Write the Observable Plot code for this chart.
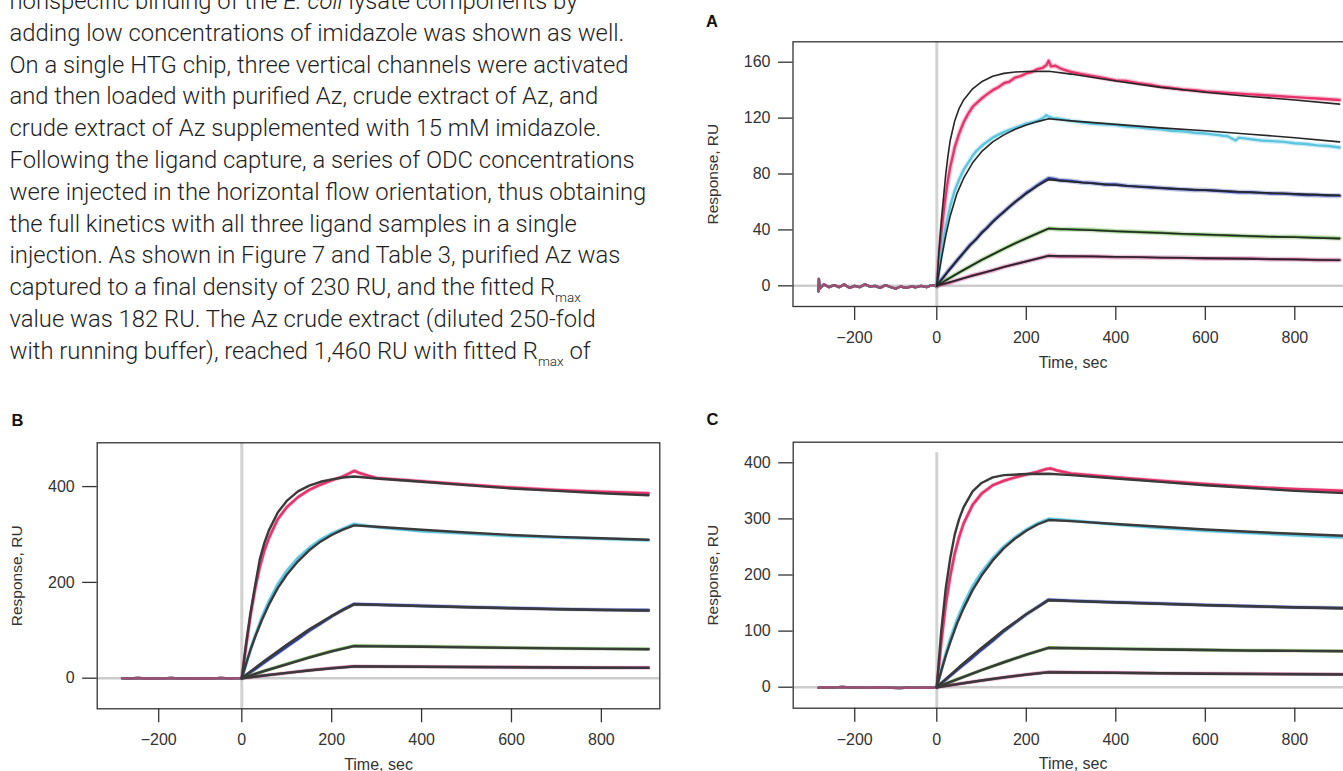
<!DOCTYPE html>
<html>
<head>
<meta charset="utf-8">
<script src="https://cdn.jsdelivr.net/npm/d3@7"></script>
<script src="https://cdn.jsdelivr.net/npm/@observablehq/plot@0.6"></script>
<style>
  html, body { margin: 0; padding: 0; width: 1343px; height: 771px; overflow: hidden; background: #fff; }
  #page { position: absolute; left: 0; top: 0; }
  .panel { position: absolute; }
  .panel svg g[aria-label$="tick label"],
  .panel svg g[aria-label$="tick label"] text { font-size: 16px !important; }
</style>
</head>
<body>
<svg id="page" width="1343" height="771"></svg>
<div class="panel" id="panelA" style="left:690px;top:0px;width:680px;height:380px"></div>
<div class="panel" id="panelB" style="left:0px;top:400px;width:680px;height:371px"></div>
<div class="panel" id="panelC" style="left:690px;top:400px;width:680px;height:371px"></div>
<script>
// ---------- paragraph text ----------
const paragraphLines = [
  [["nonspecific binding of the "], ["E. coli", "i"], [" lysate components by"]],
  [["adding low concentrations of imidazole was shown as well."]],
  [["On a single HTG chip, three vertical channels were activated"]],
  [["and then loaded with purified Az, crude extract of Az, and"]],
  [["crude extract of Az supplemented with 15 mM imidazole."]],
  [["Following the ligand capture, a series of ODC concentrations"]],
  [["were injected in the horizontal flow orientation, thus obtaining"]],
  [["the full kinetics with all three ligand samples in a single"]],
  [["injection. As shown in Figure 7 and Table 3, purified Az was"]],
  [["captured to a final density of 230 RU, and the fitted R"], ["max", "sub"]],
  [["value was 182 RU. The Az crude extract (diluted 250-fold"]],
  [["with running buffer), reached 1,460 RU with fitted R"], ["max", "sub"], [" of"]]
];
const panelTags = ["A", "B", "C"];

// ---------- shared axis ticks ----------
const timeTicks = [-200, 0, 200, 400, 600, 800];
const ticksA = [0, 40, 80, 120, 160];
const ticksB = [0, 200, 400];
const ticksC = [0, 100, 200, 300, 400];

// concentration series colours (highest to lowest)
const seriesColors = ["#e6346c", "#5cc5e0", "#2f3f9c", "#55a23a", "#a9427f"];

// ---------- A: purified Az ----------
const baseA = [[-288,-4],[-287,5],[-285,-2],[-275,1],[-262,-1],[-250,0.5],[-238,-1],[-225,1],[-212,-1.5],[-200,0],[-188,-1],[-175,1],[-162,-0.5],[-150,0],[-138,-1.5],[-125,0.5],[-112,-1],[-100,-2],[-88,-0.5],[-75,-1.5],[-62,-0.5],[-50,-1],[-38,0],[-25,-1],[-12,0.5],[0,0]];
const dataA1 = [[0,0],[5,20],[10,37],[15,52],[20,65],[25,76],[30,85],[40,99],[50,109],[60,117],[70,123],[80,128],[90,131],[100,134],[112,137],[125,140],[137,142],[150,145],[162,146],[175,149],[187,150],[200,152],[212,153],[225,155],[237,156],[245,158],[250,161],[255,157],[265,157.5],[280,155],[300,153],[325,151.5],[350,150],[375,148.5],[400,147],[425,146.5],[450,145],[475,144],[500,142.5],[525,141.5],[550,140.5],[575,140],[600,139],[625,138.5],[650,138],[675,137.5],[700,137],[725,136.5],[750,136],[775,135.5],[800,135],[825,134.5],[850,134],[875,133.5],[900,133]];
const fitA1 = [[0,0],[5,26],[10,46],[15,63],[20,80],[25,93],[30,104],[40,118],[50,127],[60,133],[80,141],[100,146],[125,150],[150,152],[175,153],[200,153.3],[250,153.5],[300,151.5],[400,146.5],[500,142],[600,138.5],[700,135.5],[800,133],[900,130]];
const dataA2 = [[0,0],[5,12],[10,23],[15,33],[20,42],[30,57],[40,68],[50,76],[60,83],[70,88],[80,93],[90,97],[100,100],[112,103],[125,106],[137,108],[150,110],[162,111.5],[175,113],[187,114.5],[200,116],[212,117],[225,118],[237,120],[245,122],[250,121],[260,120],[275,119.5],[300,118],[325,117],[350,116],[375,115.5],[400,115],[425,114],[450,113.5],[475,112.5],[500,112],[525,111],[550,110.5],[575,109.5],[600,109],[625,108],[650,107],[668,104],[675,106],[700,105],[725,104],[750,103.5],[775,103],[800,102],[825,101.5],[850,100.5],[875,100],[900,99]];
const fitA2 = [[0,0],[10,19],[20,36],[30,50],[45,66],[60,77],[80,88],[100,96],[125,103],[150,108],[175,112],[200,115],[225,117.5],[250,119.5],[300,118],[400,115.5],[500,113],[600,111],[700,108.5],[800,106],[900,103]];
const dataA3 = [[0,0],[12,5],[25,10.5],[37,15],[50,20],[62,24.5],[75,29.5],[87,33],[100,38],[112,41.5],[125,46],[137,49.5],[150,53],[162,56.5],[175,60],[187,63],[200,66.5],[212,69],[225,72],[237,74.5],[250,77],[262,76.5],[275,75.5],[300,75],[325,74],[350,73.5],[375,72.5],[400,72.5],[425,71.5],[450,71],[475,70.5],[500,70],[525,69.5],[550,69],[575,68.5],[600,68.5],[625,68],[650,67.5],[675,67],[700,67],[725,66.5],[750,66],[775,66],[800,65.5],[825,65],[850,65],[875,64.5],[900,64.5]];
const fitA3 = [[0,0],[25,10],[50,20],[75,29],[100,37.5],[125,45.5],[150,53],[175,60],[200,66],[225,71.5],[250,76],[300,74.5],[400,72],[500,70],[600,68.5],[700,67],[800,65.8],[900,64.7]];
const dataA4 = [[0,0],[25,5],[50,9.5],[75,14],[100,18.5],[125,22.5],[150,26.5],[175,30.5],[200,34],[225,37.5],[250,41],[275,40.5],[300,40.5],[350,40],[400,39],[450,38.5],[500,38],[550,37],[600,36.5],[650,36],[700,35.5],[750,35],[800,35],[850,34.5],[900,34]];
const fitA4 = [[0,0],[50,9.5],[100,18.5],[150,26.5],[200,34],[250,41],[300,40.3],[400,39],[500,37.8],[600,36.7],[700,35.6],[800,34.7],[900,33.8]];
const dataA5 = [[0,0],[25,2],[50,4.5],[75,7],[100,9],[125,11],[150,13.5],[175,15.5],[200,17.5],[225,19.5],[250,21.5],[275,21],[300,21],[350,21],[400,20.5],[450,20.5],[500,20],[550,20],[600,19.5],[650,19.5],[700,19.5],[750,19],[800,19],[850,18.5],[900,18.5]];
const fitA5 = [[0,0],[50,4.5],[100,9],[150,13.5],[200,17.5],[250,21.5],[300,21.3],[400,20.8],[500,20.3],[600,19.8],[700,19.3],[800,18.8],[900,18.3]];

// ---------- B: Az crude extract ----------
const baseB = [[-288,0],[-270,-0.5],[-250,0.5],[-230,-1],[-210,0],[-190,-0.5],[-170,0.5],[-150,-0.5],[-130,0],[-110,-1],[-90,0],[-70,-0.5],[-50,0.5],[-30,-0.5],[-10,0],[0,0]];
const dataB1 = [[0,0],[5,35],[10,70],[20,135],[30,188],[40,232],[50,266],[60,292],[80,332],[100,357],[125,378],[150,393],[175,404],[200,413],[225,421],[240,428],[250,433],[260,429],[280,423],[300,418],[400,411],[500,404],[600,398],[700,393],[800,389],[905,386]];
const fitB1 = [[0,0],[10,75],[20,140],[30,195],[40,248],[50,282],[60,308],[80,346],[100,370],[125,390],[150,402],[175,410],[200,415],[225,419],[250,421],[300,417],[400,410],[500,403],[600,396],[700,391],[800,386],[905,382]];
const dataB2 = [[0,0],[10,30],[20,62],[30,90],[45,128],[60,160],[80,196],[100,224],[125,251],[150,272],[175,289],[200,302],[225,312],[250,322],[300,315],[400,307],[500,302],[600,297],[700,294],[800,291],[905,288]];
const fitB2 = [[0,0],[10,32],[20,61],[30,87],[45,122],[60,153],[80,188],[100,216],[125,244],[150,267],[175,285],[200,299],[225,310],[250,319],[300,316],[400,310],[500,304],[600,299],[700,295],[800,292],[905,289]];
const dataB3 = [[0,0],[25,16],[50,33],[75,49],[100,66],[125,82],[150,99],[175,114],[200,129],[225,143],[250,155],[275,154],[300,153.5],[400,151],[500,148.5],[600,146.5],[700,144.5],[800,143],[905,142]];
const fitB3 = [[0,0],[50,36],[100,70],[150,102],[200,130],[250,154],[300,153],[400,150.5],[500,148],[600,146],[700,144],[800,142.5],[905,141]];
const dataB4 = [[0,0],[50,15],[100,29.5],[150,43.5],[200,56.5],[250,67.5],[300,67],[400,66],[500,65],[600,63.5],[700,62.5],[800,61.5],[905,61]];
const fitB4 = [[0,0],[50,15],[100,29],[150,43],[200,56],[250,67],[300,66.5],[400,65.5],[500,64.3],[600,63.2],[700,62.2],[800,61.3],[905,60.5]];
const dataB5 = [[0,0],[50,5.5],[100,11],[150,16.5],[200,21],[250,25],[300,24.5],[400,24],[500,23.5],[600,23],[700,22.5],[800,22],[905,22]];
const fitB5 = [[0,0],[50,5.5],[100,11],[150,16],[200,20.5],[250,24.5],[300,24.3],[400,23.8],[500,23.3],[600,22.8],[700,22.3],[800,21.9],[905,21.5]];

// ---------- C: Az crude extract + 15 mM imidazole ----------
const baseC = [[-288,-1],[-270,0],[-250,-0.5],[-230,0.5],[-210,-0.5],[-190,0],[-170,-1],[-150,0],[-130,-0.5],[-110,-1],[-90,-1.5],[-70,-0.5],[-50,-1],[-30,-0.5],[-10,-1],[0,0]];
const dataC1 = [[0,0],[10,80],[20,148],[30,198],[40,238],[50,268],[60,292],[80,325],[100,345],[125,360],[150,368],[175,374],[200,379],[225,384],[245,389],[255,390],[270,386],[300,381],[400,374],[500,368],[600,362],[700,357],[800,353],[910,350]];
const fitC1 = [[0,0],[10,101],[20,176],[30,230],[40,272],[50,300],[60,321],[80,349],[100,364],[125,374],[150,378],[200,380],[250,380.5],[300,378],[400,372],[500,366],[600,360],[700,355],[800,350],[910,346]];
const dataC2 = [[0,0],[10,30],[20,60],[30,86],[45,120],[60,148],[80,180],[100,205],[125,230],[150,251],[175,267],[200,281],[225,292],[250,300],[300,297],[400,290],[500,284],[600,279],[700,275],[800,271],[910,267]];
const fitC2 = [[0,0],[10,29],[20,56],[30,80],[45,113],[60,141],[80,173],[100,199],[125,226],[150,248],[175,265],[200,279],[225,290],[250,298],[300,296],[400,291],[500,286],[600,281],[700,277],[800,273.5],[910,270]];
const dataC3 = [[0,0],[25,17],[50,34],[75,50],[100,67],[125,83],[150,100],[175,115],[200,130],[225,143],[250,156],[275,155],[300,154],[400,151.5],[500,149],[600,146.5],[700,144.5],[800,142.5],[910,141]];
const fitC3 = [[0,0],[50,36],[100,70],[150,102],[200,130],[250,155],[300,153.5],[400,151],[500,148.5],[600,146],[700,144],[800,142.2],[910,140.8]];
const dataC4 = [[0,0],[50,15.5],[100,30.5],[150,44.5],[200,58],[250,70.5],[300,70],[400,68.5],[500,67.5],[600,66.5],[700,65.5],[800,65],[910,64.5]];
const fitC4 = [[0,0],[50,15.5],[100,30.5],[150,44.5],[200,58],[250,70],[300,69.5],[400,68.3],[500,67.2],[600,66.2],[700,65.3],[800,64.7],[910,64.2]];
const dataC5 = [[0,0],[50,6],[100,12],[150,17.5],[200,22.5],[250,27],[300,26.5],[400,26],[500,25],[600,24.5],[700,24],[800,23.5],[910,23]];
const fitC5 = [[0,0],[50,6],[100,12],[150,17.5],[200,22.5],[250,26.5],[300,26.2],[400,25.5],[500,24.8],[600,24.1],[700,23.5],[800,23],[910,22.6]];

// ---------- paragraph and panel letters ----------
const svgNS = "http://www.w3.org/2000/svg";
const page = document.getElementById("page");
const textGroup = document.createElementNS(svgNS, "g");
textGroup.setAttribute("font-family", "Roboto, 'Liberation Sans', Arial, sans-serif");
textGroup.setAttribute("font-weight", "300");
textGroup.setAttribute("fill", "#1e1e1e");
page.appendChild(textGroup);
const lineEls = paragraphLines.map((segs, k) => {
  const t = document.createElementNS(svgNS, "text");
  t.setAttribute("x", 9.5);
  t.setAttribute("y", 8.9 + 31.8 * k);
  t.setAttribute("font-size", 22);
  let shifted = false;
  for (const [str, kind] of segs) {
    const ts = document.createElementNS(svgNS, "tspan");
    ts.textContent = str;
    if (kind === "i") ts.setAttribute("font-style", "italic");
    if (kind === "sub") { ts.setAttribute("font-size", 13.5); ts.setAttribute("dy", 7); shifted = true; }
    else if (shifted) { ts.setAttribute("dy", -7); shifted = false; }
    t.appendChild(ts);
  }
  textGroup.appendChild(t);
  return t;
});
// fit the paragraph to its column width
const measured = lineEls[1].getComputedTextLength();
const fs = 22 * 615 / measured;
lineEls.forEach(t => t.setAttribute("font-size", fs.toFixed(2)));

const tagPos = [[706, 26.5], [11.5, 426], [706.5, 425]];
panelTags.forEach((s, i) => {
  const t = document.createElementNS(svgNS, "text");
  t.setAttribute("x", tagPos[i][0]);
  t.setAttribute("y", tagPos[i][1]);
  t.setAttribute("font-family", "'Liberation Sans', Arial, sans-serif");
  t.setAttribute("font-weight", "bold");
  t.setAttribute("font-size", 16.5);
  t.setAttribute("fill", "#111");
  t.textContent = s;
  page.appendChild(t);
});

// ---------- sensorgram panels ----------
const fmtTime = d => d < 0 ? "\u2212" + (-d) : String(d);

function sensorgram({base, data, fits, yDomain, yTicks, xDomain, xRange, width, height, marginTop, marginBottom,
                     dataWidth, haloWidth, fitColor, fitWidth, zeroRuleTop}) {
  const marks = [
    Plot.ruleY([0], {stroke: "#cccccc", strokeWidth: 2.5}),
    Plot.ruleX([0], {stroke: "#d2d2d2", strokeWidth: 3, y1: yDomain[0], y2: zeroRuleTop ?? yDomain[1]})
  ];
  seriesColors.forEach(c => marks.push(Plot.line(base, {x: d => d[0], y: d => d[1], stroke: c, strokeWidth: dataWidth, strokeOpacity: 0.85})));
  data.forEach((s, i) => {
    marks.push(Plot.line(s, {x: d => d[0], y: d => d[1], stroke: seriesColors[i], strokeWidth: haloWidth, strokeOpacity: 0.28}));
    marks.push(Plot.line(s, {x: d => d[0], y: d => d[1], stroke: seriesColors[i], strokeWidth: dataWidth}));
  });
  fits.forEach(s => marks.push(Plot.line(s, {x: d => d[0], y: d => d[1], stroke: fitColor, strokeWidth: fitWidth})));
  marks.push(
    Plot.frame({stroke: "#333", strokeWidth: 1.3}),
    Plot.axisX({ticks: timeTicks, tickFormat: fmtTime, tickSize: 14, tickPadding: 11, label: null, stroke: "#333", strokeWidth: 1.3}),
    Plot.axisY({ticks: yTicks, tickFormat: d => String(d), tickSize: 14.5, tickPadding: 8, label: null, stroke: "#333", strokeWidth: 1.3}),
    Plot.text(["Time, sec"], {frameAnchor: "bottom", dy: 56, textAnchor: "middle", lineAnchor: "middle", fontSize: 16, fill: "#333"}),
    Plot.text(["Response, RU"], {frameAnchor: "left", dx: -80, rotate: -90, textAnchor: "middle", lineAnchor: "middle", fontSize: 15.5, fill: "#333"})
  );
  return Plot.plot({
    width, height,
    marginLeft: xRange[0], marginRight: width - xRange[2], marginTop, marginBottom,
    x: {type: "linear", domain: xDomain, range: xRange, axis: null},
    y: {type: "linear", domain: yDomain, axis: null},
    style: {fontFamily: "'Liberation Sans', Arial, sans-serif", color: "#333", background: "transparent", maxWidth: "none", overflow: "visible"},
    marks
  });
}

document.getElementById("panelA").appendChild(sensorgram({
  base: baseA,
  data: [dataA1, dataA2, dataA3, dataA4, dataA5],
  fits: [fitA1, fitA2, fitA3, fitA4, fitA5],
  yDomain: [-14.8, 174.6], yTicks: ticksA,
  xDomain: [-350, 0, 930], xRange: [102.5, 246.3, 662.5],
  width: 680, height: 380, marginTop: 41.3, marginBottom: 74,
  dataWidth: 2.4, haloWidth: 5, fitColor: "#262626", fitWidth: 1.6
}));

document.getElementById("panelB").appendChild(sensorgram({
  base: baseB,
  data: [dataB1, dataB2, dataB3, dataB4, dataB5],
  fits: [fitB1, fitB2, fitB3, fitB4, fitB5],
  yDomain: [-63.9, 491.4], yTicks: ticksB,
  xDomain: [-348, 0, 930], xRange: [96.7, 241.3, 659.3],
  width: 680, height: 371, marginTop: 42.3, marginBottom: 62.7,
  dataWidth: 2.6, haloWidth: 4, fitColor: "#3a3a3a", fitWidth: 2.4
}));

document.getElementById("panelC").appendChild(sensorgram({
  base: baseC,
  data: [dataC1, dataC2, dataC3, dataC4, dataC5],
  fits: [fitC1, fitC2, fitC3, fitC4, fitC5],
  yDomain: [-37.4, 436.7], yTicks: ticksC,
  xDomain: [-350, 0, 930], xRange: [102.7, 246.3, 662.5],
  width: 680, height: 371, marginTop: 41.7, marginBottom: 63.3,
  dataWidth: 2.6, haloWidth: 4, fitColor: "#3a3a3a", fitWidth: 2.4, zeroRuleTop: 418
}));
</script>
</body>
</html>
